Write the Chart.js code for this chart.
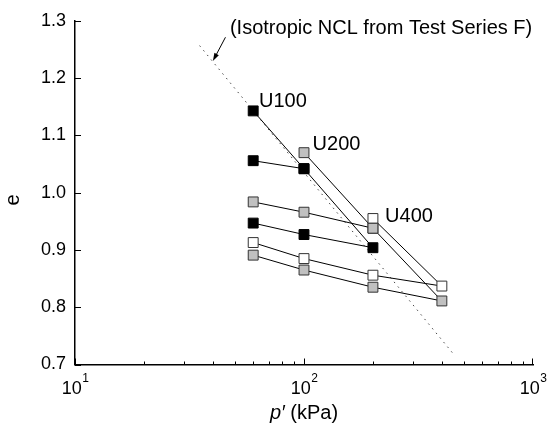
<!DOCTYPE html>
<html>
<head>
<meta charset="utf-8">
<script src="https://cdn.jsdelivr.net/npm/chart.js@4.4.1/dist/chart.umd.min.js"></script>
<style>
  html, body { margin: 0; padding: 0; background: #fff; }
</style>
</head>
<body>
<canvas id="myChart" width="548" height="424"></canvas>
<script>
  // p' (kPa) and void ratio e
  const pBlackA = [60, 100, 200, 100, 60];
  const eBlackA = [1.143, 1.042, 0.904, 0.927, 0.947];
  const pBlackB = [100, 60];
  const eBlackB = [1.042, 1.056];

  const pGreyA = [100, 200, 400, 200, 100, 60];
  const eGreyA = [1.070, 0.938, 0.811, 0.835, 0.865, 0.891];
  const pGreyB = [200, 100, 60];
  const eGreyB = [0.938, 0.966, 0.984];

  const pWhite = [200, 400, 200, 100, 60];
  const eWhite = [0.955, 0.837, 0.856, 0.885, 0.913];

  // isotropic NCL (Test Series F), end points of the dotted line
  const nclP = [35, 450];
  const nclE = [1.257, 0.718];

  const xTickExp = [1, 2, 3];

  const FONT = 'Arial, "Liberation Sans", sans-serif';
  Chart.defaults.font.family = FONT;
  Chart.defaults.color = '#000';

  const pts = (ps, es) => ps.map((p, i) => ({ x: p, y: es[i] }));

  const series = [
    { p: pBlackA, e: eBlackA, fill: '#000000', edge: '#000000' },
    { p: pBlackB, e: eBlackB, fill: '#000000', edge: '#000000' },
    { p: pGreyA, e: eGreyA, fill: '#c0c0c0', edge: '#333333' },
    { p: pGreyB, e: eGreyB, fill: '#c0c0c0', edge: '#333333' },
    { p: pWhite, e: eWhite, fill: '#ffffff', edge: '#333333' }
  ];

  const datasets = [];
  series.forEach(s => {
    // line first (drawn underneath)
    datasets.push({
      data: pts(s.p, s.e),
      showLine: true,
      borderColor: '#000',
      borderWidth: 1,
      pointRadius: 0,
      order: 2
    });
    // then the square markers
    datasets.push({
      data: pts(s.p, s.e),
      showLine: false,
      pointStyle: 'rect',
      pointRadius: 7,
      pointBackgroundColor: s.fill,
      pointBorderColor: s.edge,
      pointBorderWidth: 1,
      order: 1
    });
  });
  datasets.push({
    data: pts(nclP, nclE),
    showLine: true,
    borderColor: '#444',
    borderWidth: 1,
    borderDash: [1.5, 4.5],
    pointRadius: 0,
    order: 3
  });

  // text labels placed at (p, e)
  const notes = [
    { text: 'U100', p: 63.6, e: 1.150 },
    { text: 'U200', p: 109, e: 1.074 },
    { text: 'U400', p: 226, e: 0.949 },
    { text: '(Isotropic NCL from Test Series F)', p: 47.5, e: 1.278 }
  ];
  const arrow = { from: { p: 45.4, e: 1.2716 }, to: { p: 40, e: 1.230 } };

  const extras = {
    id: 'extras',
    afterDraw(chart) {
      const { ctx, chartArea: a, scales: { x, y } } = chart;
      ctx.save();
      ctx.strokeStyle = '#000';
      ctx.lineWidth = 1;
      ctx.beginPath();
      // inward ticks, y
      y.ticks.forEach(t => {
        const py = Math.round(y.getPixelForValue(t.value)) + 0.5;
        ctx.moveTo(a.left, py);
        ctx.lineTo(a.left + 6, py);
      });
      // inward ticks, x (log decades)
      for (let d = x.min; d < x.max; d *= 10) {
        for (let m = 1; m <= 9; m++) {
          const px = Math.round(x.getPixelForValue(d * m)) + 0.5;
          ctx.moveTo(px, a.bottom);
          ctx.lineTo(px, a.bottom - (m === 1 ? 6 : 3));
        }
      }
      const pxEnd = Math.round(x.getPixelForValue(x.max)) - 0.5;
      ctx.moveTo(pxEnd, a.bottom);
      ctx.lineTo(pxEnd, a.bottom - 6);
      ctx.stroke();

      // x tick labels 10^n
      ctx.fillStyle = '#000';
      ctx.textBaseline = 'alphabetic';
      ctx.textAlign = 'left';
      xTickExp.forEach(n => {
        const px = x.getPixelForValue(Math.pow(10, n));
        ctx.font = '18px ' + FONT;
        const w1 = ctx.measureText('10').width;
        ctx.font = '12px ' + FONT;
        const w2 = ctx.measureText(String(n)).width;
        const x0 = px - (w1 + w2) / 2;
        ctx.font = '18px ' + FONT;
        ctx.fillText('10', x0, a.bottom + 29);
        ctx.font = '12px ' + FONT;
        ctx.fillText(String(n), x0 + w1 + 0.5, a.bottom + 17);
      });

      // x title: p' (kPa)
      ctx.font = 'italic 20px ' + FONT;
      const t1 = 'p\u2032';
      const wa = ctx.measureText(t1).width;
      ctx.font = '20px ' + FONT;
      const t2 = ' (kPa)';
      const wb = ctx.measureText(t2).width;
      const cx = (a.left + a.right) / 2;
      ctx.font = 'italic 20px ' + FONT;
      ctx.fillText(t1, cx - (wa + wb) / 2, 419);
      ctx.font = '20px ' + FONT;
      ctx.fillText(t2, cx - (wa + wb) / 2 + wa, 419);

      // y title: e
      ctx.save();
      ctx.translate(18.5, 200);
      ctx.rotate(-Math.PI / 2);
      ctx.textAlign = 'center';
      ctx.font = '20px ' + FONT;
      ctx.fillText('e', 0, 0);
      ctx.restore();

      // notes
      ctx.font = '20px ' + FONT;
      ctx.textAlign = 'left';
      notes.forEach(n => {
        ctx.fillText(n.text, x.getPixelForValue(n.p), y.getPixelForValue(n.e));
      });

      // arrow to the NCL
      const x1 = x.getPixelForValue(arrow.from.p), y1 = y.getPixelForValue(arrow.from.e);
      const x2 = x.getPixelForValue(arrow.to.p), y2 = y.getPixelForValue(arrow.to.e);
      const ang = Math.atan2(y2 - y1, x2 - x1);
      ctx.beginPath();
      ctx.moveTo(x1, y1);
      ctx.lineTo(x2 - 6 * Math.cos(ang), y2 - 6 * Math.sin(ang));
      ctx.stroke();
      ctx.beginPath();
      ctx.moveTo(x2, y2);
      ctx.lineTo(x2 - 8 * Math.cos(ang) + 2.5 * Math.sin(ang), y2 - 8 * Math.sin(ang) - 2.5 * Math.cos(ang));
      ctx.lineTo(x2 - 8 * Math.cos(ang) - 2.5 * Math.sin(ang), y2 - 8 * Math.sin(ang) + 2.5 * Math.cos(ang));
      ctx.closePath();
      ctx.fill();
      ctx.restore();
    }
  };

  const ctx = document.getElementById('myChart').getContext('2d');

  const myChart = new Chart(ctx, {
    type: 'scatter',
    data: { datasets: datasets },
    options: {
      responsive: false,
      animation: false,
      layout: { padding: { top: 21, right: 15, left: 0, bottom: 0 } },
      plugins: {
        legend: { display: false },
        tooltip: { enabled: false }
      },
      scales: {
        x: {
          type: 'logarithmic',
          min: 10,
          max: 1000,
          grid: { display: false, drawTicks: false },
          border: { display: true, color: '#000', width: 1.5 },
          ticks: { display: false },
          afterFit: s => { s.height = 59.5; }
        },
        y: {
          min: 0.7,
          max: 1.3,
          grid: { display: false, drawTicks: false },
          border: { display: true, color: '#000', width: 1.5 },
          ticks: {
            stepSize: 0.1,
            padding: 9,
            font: { size: 18 },
            callback: v => v.toFixed(1)
          },
          afterFit: s => { s.width = 75; }
        }
      }
    },
    plugins: [extras]
  });
</script>
</body>
</html>
